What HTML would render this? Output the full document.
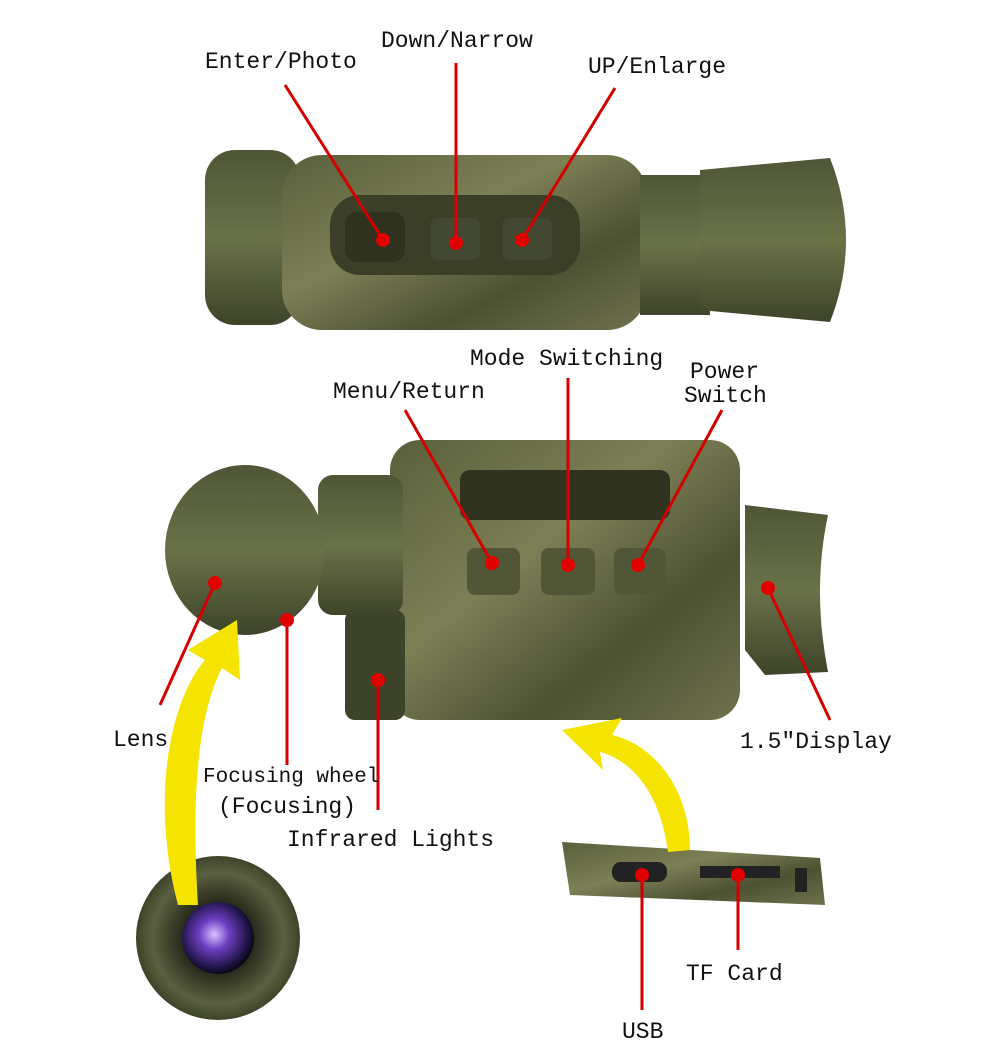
<!DOCTYPE html>
<html><head><meta charset="utf-8"><style>
html,body{margin:0;padding:0;background:#fff}
svg{display:block}
text{font-family:"Liberation Mono",monospace;font-size:23px;fill:#111}
</style></head><body>
<svg width="1001" height="1063" viewBox="0 0 1001 1063" xmlns="http://www.w3.org/2000/svg">
<defs>
<linearGradient id="g1" x1="0" y1="0" x2="0" y2="1"><stop offset="0" stop-color="#4e5636"/><stop offset=".5" stop-color="#6a7248"/><stop offset="1" stop-color="#3e4429"/></linearGradient>
<linearGradient id="camo" x1="0" y1="0" x2="1" y2="1"><stop offset="0" stop-color="#59603a"/><stop offset=".4" stop-color="#7d7f55"/><stop offset=".7" stop-color="#4c5132"/><stop offset="1" stop-color="#6f724c"/></linearGradient>
<radialGradient id="lens" cx=".45" cy=".45" r=".6"><stop offset="0" stop-color="#d9c3ff"/><stop offset=".35" stop-color="#6b3fc0"/><stop offset=".8" stop-color="#1c1240"/><stop offset="1" stop-color="#000"/></radialGradient>
<radialGradient id="cup" cx=".5" cy=".5" r=".5"><stop offset="0" stop-color="#111"/><stop offset=".45" stop-color="#2a2d1c"/><stop offset=".8" stop-color="#5a6040"/><stop offset="1" stop-color="#3e4429"/></radialGradient>
</defs>
<rect width="1001" height="1063" fill="#fff"/>

<!-- TOP DEVICE -->
<rect x="205" y="150" width="95" height="175" rx="30" fill="url(#g1)"/>
<rect x="282" y="155" width="365" height="175" rx="40" fill="url(#camo)"/>
<rect x="640" y="175" width="70" height="140" fill="url(#g1)"/>
<path d="M700 170 L830 158 Q862 240 830 322 L700 310 Z" fill="url(#g1)"/>
<rect x="330" y="195" width="250" height="80" rx="30" fill="#3b3f27"/>
<rect x="345" y="212" width="60" height="50" rx="12" fill="#2f321f" transform="rotate(0)"/>
<rect x="430" y="218" width="50" height="42" rx="8" fill="#434832"/>
<rect x="502" y="218" width="50" height="42" rx="8" fill="#434832"/>

<!-- MIDDLE DEVICE -->
<rect x="390" y="440" width="350" height="280" rx="30" fill="url(#camo)"/>
<rect x="345" y="610" width="60" height="110" rx="10" fill="#3e4429"/>
<rect x="318" y="475" width="85" height="140" rx="15" fill="url(#g1)"/>
<ellipse cx="245" cy="550" rx="80" ry="85" fill="url(#g1)"/>
<path d="M745 505 L828 515 Q812 590 828 672 L765 675 L745 650 Z" fill="url(#g1)"/>
<rect x="460" y="470" width="210" height="50" rx="10" fill="#2f3320"/>
<rect x="467" y="548" width="53" height="47" rx="8" fill="#515637"/>
<rect x="541" y="548" width="54" height="47" rx="8" fill="#515637"/>
<rect x="614" y="548" width="52" height="47" rx="8" fill="#515637"/>

<!-- BOTTOM LEFT LENS -->
<circle cx="218" cy="938" r="82" fill="url(#cup)"/>
<circle cx="218" cy="938" r="36" fill="url(#lens)"/>

<!-- BOTTOM RIGHT BAR -->
<path d="M562 842 L820 858 L825 905 L570 895 Z" fill="url(#camo)"/>
<rect x="612" y="862" width="55" height="20" rx="9" fill="#222"/>
<rect x="700" y="866" width="80" height="12" fill="#222"/>
<rect x="795" y="868" width="12" height="24" fill="#222"/>

<!-- YELLOW ARROWS -->
<path d="M178 905 C150 800 170 700 205 660 L188 650 L237 620 L240 680 L222 668 C195 720 192 810 198 905 Z" fill="#f5e400"/>
<path d="M668 852 C660 790 630 760 600 752 L603 770 L562 730 L622 718 L612 735 C655 745 690 790 690 850 Z" fill="#f5e400"/>

<!-- RED LINES -->
<g stroke="#d40000" stroke-width="3" fill="none">
<line x1="285" y1="85" x2="383" y2="240"/>
<line x1="456" y1="63" x2="456" y2="243"/>
<line x1="615" y1="88" x2="522" y2="240"/>
<line x1="568" y1="378" x2="568" y2="565"/>
<line x1="405" y1="410" x2="492" y2="563"/>
<line x1="722" y1="410" x2="638" y2="565"/>
<line x1="160" y1="705" x2="215" y2="583"/>
<line x1="287" y1="620" x2="287" y2="765"/>
<line x1="378" y1="680" x2="378" y2="810"/>
<line x1="830" y1="720" x2="768" y2="588"/>
<line x1="642" y1="875" x2="642" y2="1010"/>
<line x1="738" y1="875" x2="738" y2="950"/>
</g>
<g fill="#e00000">
<circle cx="383" cy="240" r="7"/><circle cx="456" cy="243" r="7"/><circle cx="522" cy="240" r="7"/>
<circle cx="568" cy="565" r="7"/><circle cx="492" cy="563" r="7"/><circle cx="638" cy="565" r="7"/>
<circle cx="215" cy="583" r="7"/><circle cx="287" cy="620" r="7"/><circle cx="378" cy="680" r="7"/>
<circle cx="768" cy="588" r="7"/><circle cx="642" cy="875" r="7"/><circle cx="738" cy="875" r="7"/>
</g>

<!-- LABELS -->
<text x="205" y="68">Enter/Photo</text>
<text x="381" y="47">Down/Narrow</text>
<text x="588" y="73">UP/Enlarge</text>
<text x="470" y="365">Mode Switching</text>
<text x="333" y="398">Menu/Return</text>
<text x="690" y="378">Power</text>
<text x="684" y="402">Switch</text>
<text x="113" y="746">Lens</text>
<text x="203" y="782" style="font-size:21px">Focusing wheel</text>
<text x="218" y="813">(Focusing)</text>
<text x="287" y="846">Infrared Lights</text>
<text x="740" y="748">1.5"Display</text>
<text x="686" y="980">TF Card</text>
<text x="622" y="1038">USB</text>
</svg>
</body></html>
